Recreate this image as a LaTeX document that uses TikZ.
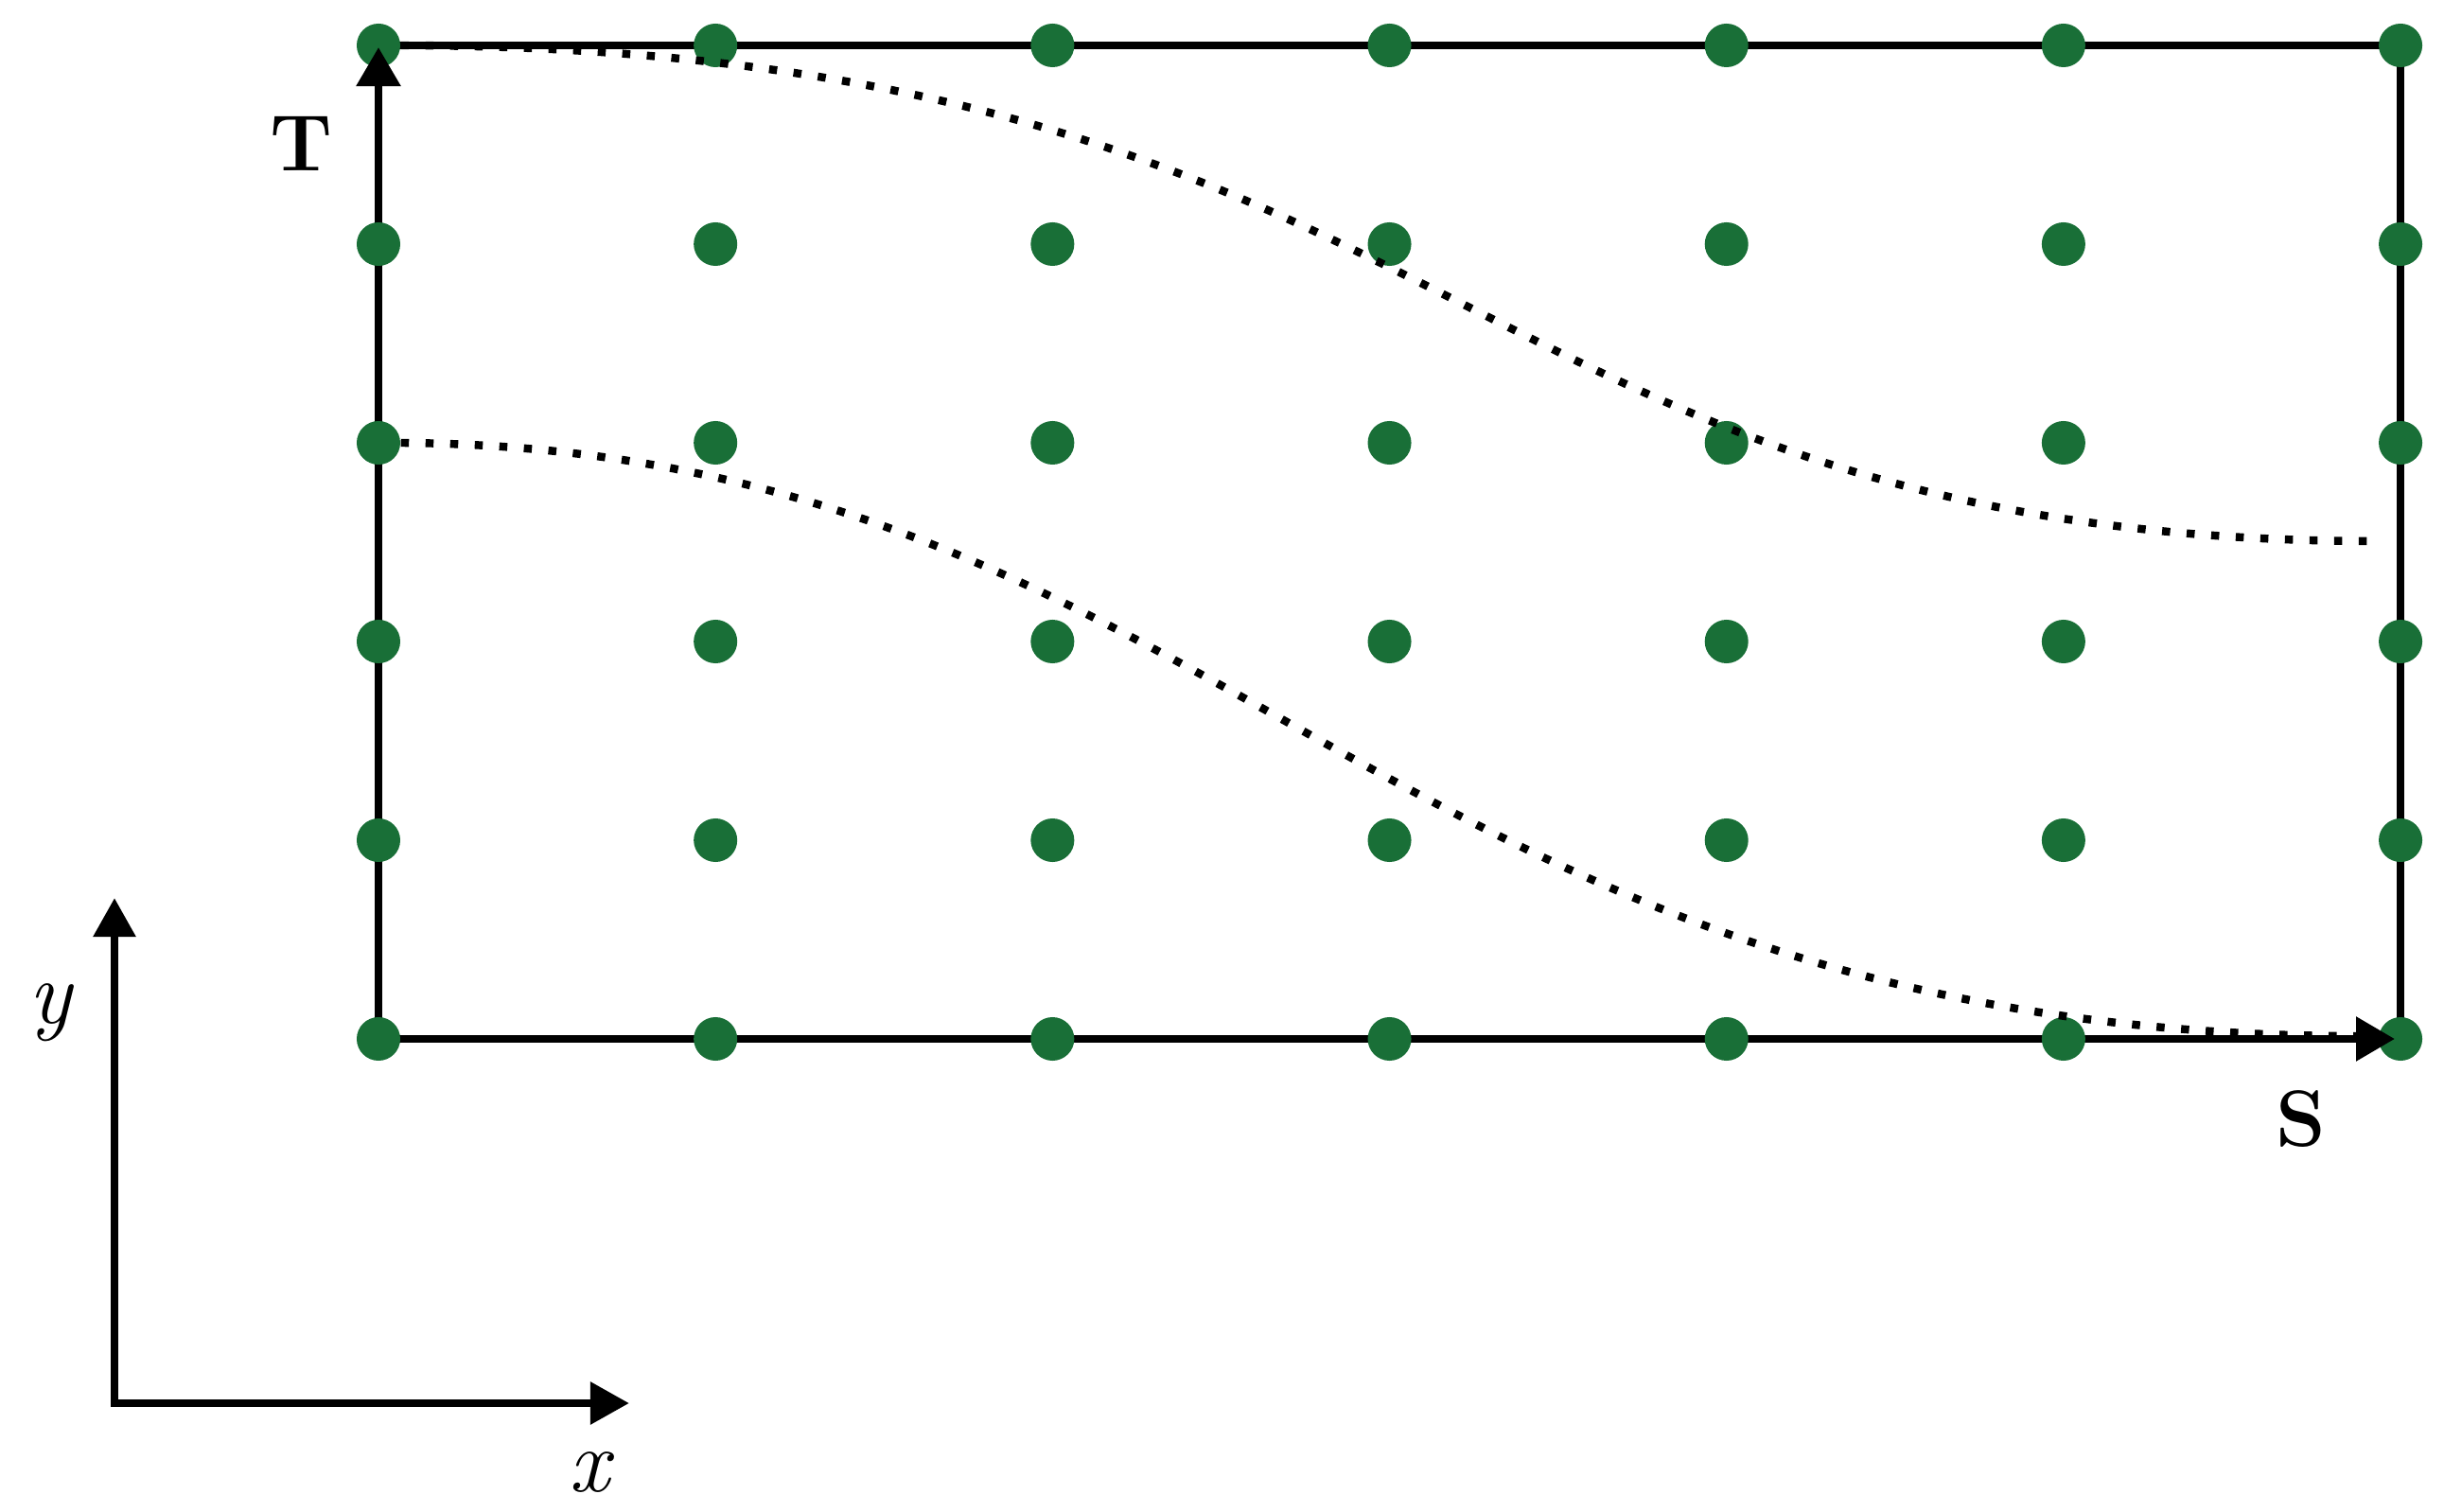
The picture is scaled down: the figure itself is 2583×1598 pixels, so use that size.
\documentclass[tikz,border=0pt]{standalone}
\usepackage{fontspec}
\usetikzlibrary{arrows.meta,backgrounds}
\definecolor{dotgreen}{RGB}{25,111,55}
\begin{document}
\begin{tikzpicture}[x=0.01cm,y=-0.01cm,
  gdot/.style={circle,fill=dotgreen,inner sep=0pt,minimum size=0.46cm},
  edgeline/.style={line width=2.5pt,black,line join=miter},
  tipline/.style={line width=2.5pt,black,-{Triangle[width=0.45cm,length=0.41cm]}},
  axisline/.style={line width=2.5pt,black,line join=miter,{Triangle[width=0.43cm,length=0.41cm]}-{Triangle[width=0.43cm,length=0.41cm]}},
  dotcurve/.style={line width=2.4pt,black,dash pattern=on 0.085cm off 0.175cm},
  boldlab/.style={font=\fontsize{24}{28}\selectfont\bfseries,inner sep=0pt},
  itlab/.style={font=\fontsize{27}{30}\selectfont\itshape,inner sep=0pt,anchor=base}]
\useasboundingbox (0,0) rectangle (2583,1598);
% grid of dots
\foreach \i in {0,...,6}{
  \foreach \j in {0,...,5}{
    \node[gdot] (d-\i-\j) at ({400+356.17*\i},{48+210*\j}) {};
  }
}
% frame behind dots
\begin{scope}[on background layer]
  \draw[edgeline] (d-0-0.center) -- (d-6-0.center) -- (d-6-5.center) -- (d-0-5.center) -- cycle;
\end{scope}
% arrowheads on T and S axes
\coordinate (ta) at (400,140);
\coordinate (sa) at (2430,1098);
\coordinate (te) at (400,50);
\coordinate (se) at (2531,1098);
\draw[tipline] (ta) -- (te);
\draw[tipline] (sa) -- (se);
% dotted curves
\coordinate (c1e) at (2515,572);
\coordinate (c2e) at (2495,1095);
\draw[dotcurve] (d-0-0.east) .. controls (1553,50) and (1534,572) .. (c1e);
\draw[dotcurve] (d-0-2.east) .. controls (1290,474) and (1463,1095) .. (c2e);
% labels
\node[boldlab] (T) at (318,152) {T};
\node[boldlab] (S) at (2432,1183) {S};
% coordinate axes
\coordinate (o) at (121,1483);
\coordinate (ay) at (121,949);
\coordinate (ax) at (665,1483);
\draw[axisline] (ay) -- (o) -- (ax);
\node[itlab] (ylab) at (53,1081) {y};
\node[itlab] (xlab) at (623,1576) {x};
\end{tikzpicture}
\end{document}
